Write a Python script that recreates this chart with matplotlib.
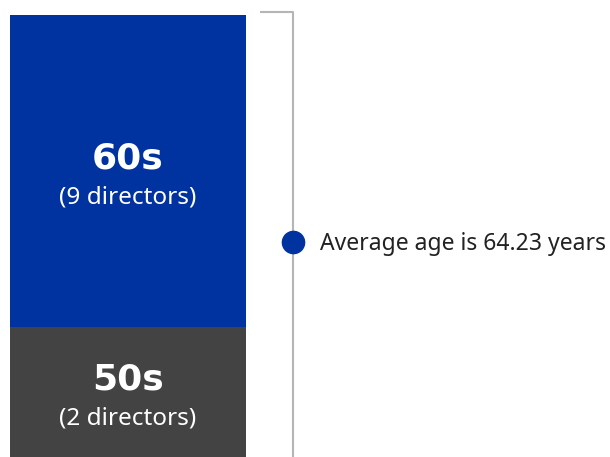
import matplotlib.pyplot as plt

# segments, bottom to top
labels = ['50s', '60s']
counts = [2, 9]
# visual share of bar height (%)
shares = [29.4, 70.6]
colors = ['#434343', '#0033a0']
avg_age = 64.23

W, H = 610, 457
fig = plt.figure(figsize=(W / 100, H / 100), dpi=100)

# stacked bar
ax = fig.add_axes([10 / W, 0, 236 / W, 442 / H])
bottom = 0
for lab, n, s, c in zip(labels, counts, shares, colors):
    ax.bar(0, s, bottom=bottom, width=1, color=c, linewidth=0)
    mid = bottom + s / 2
    ax.annotate(lab, (0, mid), xytext=(0, 9), textcoords='offset points',
                ha='center', va='center', color='white',
                fontsize=26, fontweight='bold', family='DejaVu Sans')
    ax.annotate(f'({n} directors)', (0, mid), xytext=(0, -19),
                textcoords='offset points', ha='center', va='center',
                color='white', fontsize=17.5, family='Noto Sans')
    bottom += s
ax.set_xlim(-0.5, 0.5)
ax.set_ylim(0, sum(shares))
ax.axis('off')

# bracket + average marker
ax2 = fig.add_axes([0, 0, 1, 1])
ax2.set_xlim(0, W)
ax2.set_ylim(H, 0)
ax2.axis('off')
ax2.plot([260, 293, 293], [12, 12, H], color='#b5b5b5', lw=1.5,
         solid_capstyle='butt')
ax2.plot(293, 242, 'o', color='#0033a0', markersize=16)
ax2.text(320, 244, f'Average age is {avg_age} years', va='center',
         ha='left', fontsize=16.5, color='#222222', family='Noto Sans')

fig.savefig('out.png', dpi=100)
